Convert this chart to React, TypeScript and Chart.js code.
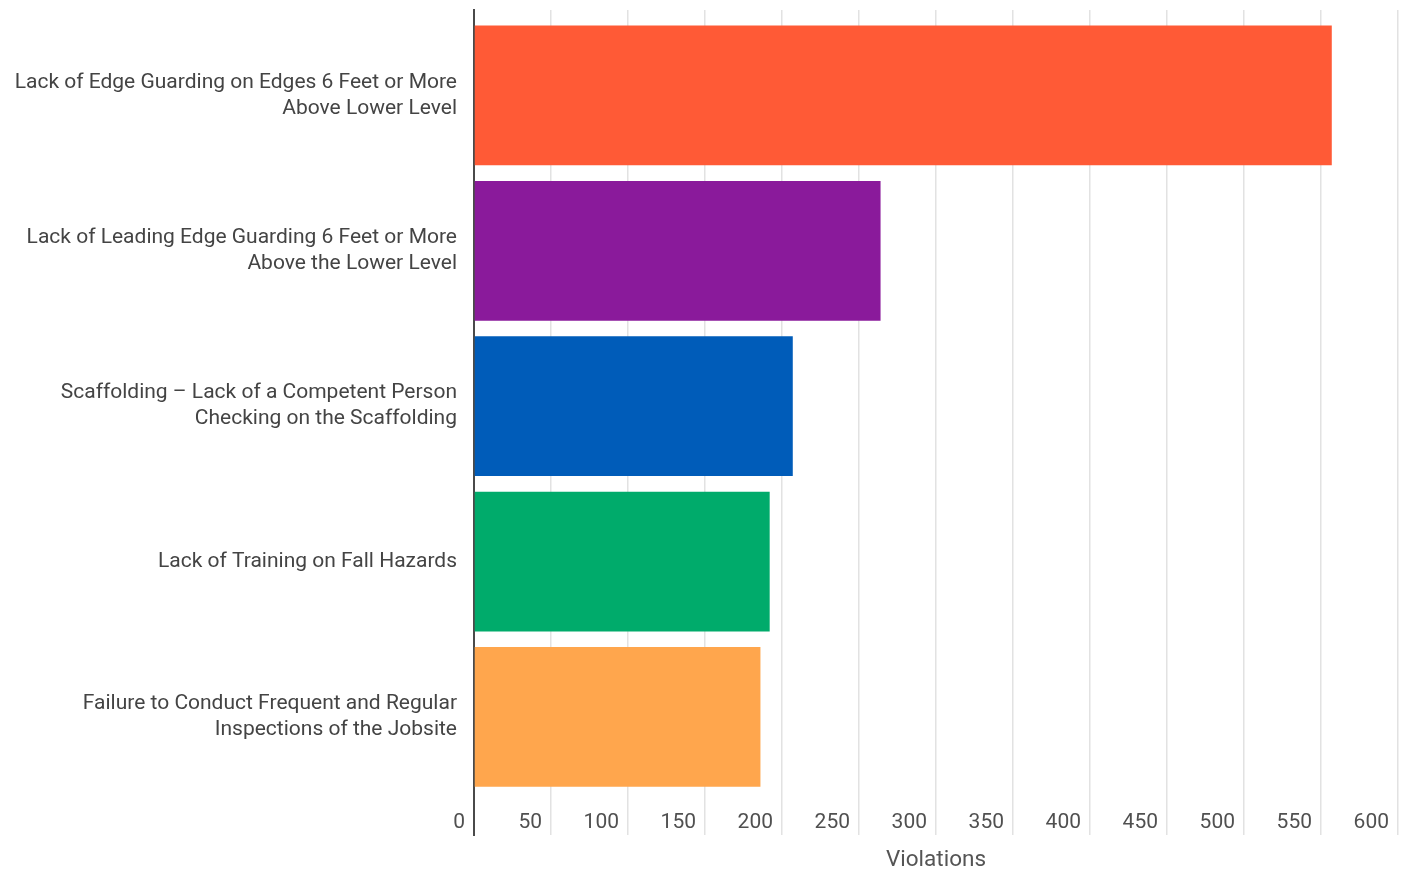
import React, { useEffect, useRef } from "react";
import { Chart, registerables } from "chart.js";

Chart.register(...registerables);

const categories: string[][] = [
  ["Lack of Edge Guarding on Edges 6 Feet or More", "Above Lower Level"],
  ["Lack of Leading Edge Guarding 6 Feet or More", "Above the Lower Level"],
  ["Scaffolding – Lack of a Competent Person", "Checking on the Scaffolding"],
  ["Lack of Training on Fall Hazards"],
  ["Failure to Conduct Frequent and Regular", "Inspections of the Jobsite"],
];
const violations: number[] = [557, 264, 207, 192, 186];
const barColors: string[] = ["#FF5A36", "#8A1A9B", "#005CB9", "#00AB6B", "#FFA64D"];
const xTicks: number[] = [0, 50, 100, 150, 200, 250, 300, 350, 400, 450, 500, 550, 600];
const xTitle = "Violations";

export default function App() {
  const ref = useRef<HTMLCanvasElement | null>(null);
  useEffect(() => {
    if (!ref.current) return;
    const chart = new Chart(ref.current, {
      type: "bar",
      data: {
        datasets: [
          {
            label: xTitle,
            data: violations.map((v, i) => ({ x: v, y: i })),
            backgroundColor: barColors,
            borderWidth: 0,
            categoryPercentage: 1,
            barPercentage: 0.9,
          },
        ],
      },
      options: {
        indexAxis: "y",
        animation: false,
        responsive: true,
        maintainAspectRatio: false,
        layout: { padding: { top: 10, right: 4, left: 0, bottom: 0 } },
        plugins: { legend: { display: false }, tooltip: { enabled: false } },
        scales: {
          y: {
            type: "linear",
            reverse: true,
            offset: false,
            min: -0.55,
            max: 4.76,
            grid: { display: false, drawTicks: false },
            border: { display: true, color: "#4a4a4a", width: 2 },
            afterBuildTicks: (axis: any) => {
              axis.ticks = categories.map((_, i) => ({ value: i }));
            },
            afterFit: (axis: any) => {
              axis.width = 474;
              axis.paddingTop = 0;
              axis.paddingBottom = 0;
            },
            ticks: {
              padding: 17,
              color: "#444444",
              font: { family: "Roboto", size: 21, lineHeight: 1.24 },
              callback: (v: any) => categories[Number(v)] ?? "",
            },
          },
          x: {
            type: "linear",
            min: 0,
            max: 600,
            afterBuildTicks: (axis: any) => {
              axis.ticks = xTicks.map((v) => ({ value: v }));
            },
            afterFit: (axis: any) => {
              axis.height = 34;
              axis.paddingLeft = 0;
              axis.paddingRight = 0;
            },
            grid: { color: "#e2e2e2", lineWidth: 1.5, drawTicks: false },
            border: { display: false },
            ticks: {
              mirror: true,
              align: "end",
              labelOffset: -9,
              padding: 0,
              maxRotation: 0,
              autoSkip: false,
              color: "#505050",
              font: { family: "Roboto", size: 21, lineHeight: 1.2 },
            },
            title: {
              display: true,
              text: xTitle,
              color: "#555555",
              padding: { top: 0, bottom: -5 },
              font: { family: "Roboto", size: 22.5, lineHeight: 1.2 },
            },
          },
        },
      },
    });
    return () => chart.destroy();
  }, []);
  return (
    <div style={{ position: "absolute", left: 0, top: 0, width: 1402, height: 869 }}>
      <canvas ref={ref} />
    </div>
  );
}
